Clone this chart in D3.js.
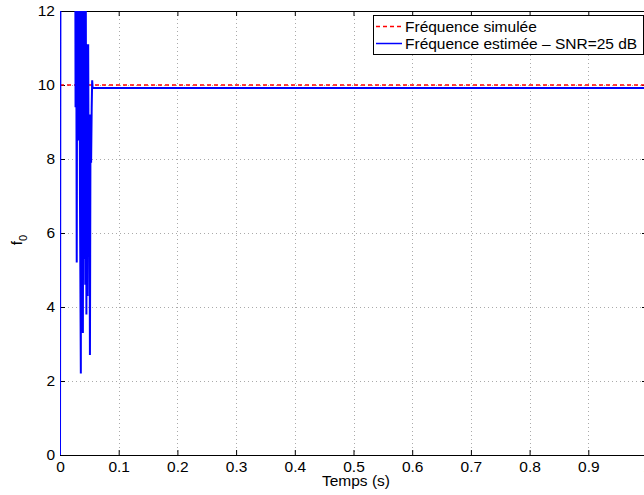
<!DOCTYPE html>
<html><head><meta charset="utf-8">
<script src="https://cdn.jsdelivr.net/npm/d3@7"></script>
<style>body{margin:0;background:#fff}svg{display:block;font-family:"Liberation Sans",Arial,sans-serif}</style>
</head><body>
<svg id="c" width="644" height="495"></svg>
<script>
const xTicks = [0,0.1,0.2,0.3,0.4,0.5,0.6,0.7,0.8,0.9,1];
const xTickLabels = ["0","0.1","0.2","0.3","0.4","0.5","0.6","0.7","0.8","0.9","1"];
const yTicks = [0,2,4,6,8,10,12];
const yTickLabels = ["0","2","4","6","8","10","12"];
const simTime = [0,1];
const simFreq = [10,10];
const estTime = [0,0.0008,0.026,0.0265,0.0275,0.0285,0.0295,0.031,0.032,0.033,0.034,0.0355,0.036,0.037,0.038,0.039,0.040,0.041,0.042,0.043,0.044,0.045,0.046,0.047,0.048,0.049,0.050,0.051,0.052,0.053,0.054,0.0548,0.0556,1];
const estFreq = [0,14,14,9.4,14,5.2,14,12.5,8.5,14,7,2.2,14,6,14,3.3,13,5.3,14,4.6,12,3.8,11.1,4.3,11.1,6.5,9.2,2.7,9.2,7.9,9.4,10.13,9.92,9.92];
const legendLabels = ["Fréquence simulée","Fréquence estimée – SNR=25 dB"];

const FS = 15.5;
const svg = d3.select("#c");
const L=60, R=647, T=11, B=455;
const x = d3.scaleLinear().domain([0,1]).range([L,R]);
const y = d3.scaleLinear().domain([0,12]).range([B,T]);

svg.append("defs").append("clipPath").attr("id","clip").append("rect")
  .attr("x",L).attr("y",T).attr("width",R-L).attr("height",B-T);

// grid
const g = svg.append("g");
g.selectAll(".gx").data(xTicks.slice(1,-1)).enter().append("line")
  .attr("x1",d=>Math.round(x(d))+0.5).attr("x2",d=>Math.round(x(d))+0.5).attr("y1",T).attr("y2",B)
  .attr("stroke","#aaa").attr("stroke-width",1).attr("stroke-dasharray","1,3");
g.selectAll(".gy").data(yTicks.slice(1,-1)).enter().append("line")
  .attr("y1",d=>Math.round(y(d))+0.5).attr("y2",d=>Math.round(y(d))+0.5).attr("x1",L).attr("x2",R)
  .attr("stroke","#aaa").attr("stroke-width",1).attr("stroke-dasharray","1,3");

// axes with inward ticks
const xb = d3.axisBottom(x).tickValues(xTicks).tickFormat((d,i)=>xTickLabels[i]).tickSizeInner(-5).tickSizeOuter(0).tickPadding(6);
const xt = d3.axisTop(x).tickValues(xTicks).tickFormat("").tickSizeInner(-5).tickSizeOuter(0);
const yl = d3.axisLeft(y).tickValues(yTicks).tickFormat((d,i)=>yTickLabels[i]).tickSizeInner(-5).tickSizeOuter(0).tickPadding(5);
const yr = d3.axisRight(y).tickValues(yTicks).tickFormat("").tickSizeInner(-5).tickSizeOuter(0);
function style(sel){sel.selectAll("path,line").attr("stroke","#000");sel.selectAll("text").attr("fill","#000").attr("font-size",FS).attr("font-family","Liberation Sans, Arial, sans-serif");}
svg.append("g").attr("transform",`translate(0,${B})`).call(xb).call(style);
svg.append("g").attr("transform",`translate(0,${T})`).call(xt).call(style);
svg.append("g").attr("transform",`translate(${L},0)`).call(yl).call(style);
svg.append("g").attr("transform",`translate(${R},0)`).call(yr).call(style);

// lines
const plot = svg.append("g").attr("clip-path","url(#clip)");
const line = d3.line().x(d=>x(d[0])).y(d=>y(d[1]));
plot.append("path").datum(simTime.map((t,i)=>[t,simFreq[i]])).attr("d",line)
  .attr("fill","none").attr("stroke","#ff0000").attr("stroke-width",1.5).attr("stroke-dasharray","4,3");
plot.append("path").datum(estTime.map((t,i)=>[t,estFreq[i]])).attr("d",line)
  .attr("fill","none").attr("stroke","#0000ff").attr("stroke-width",2);

// axis labels
svg.append("text").attr("x",356).attr("y",486).attr("text-anchor","middle").attr("font-size",FS).text("Temps (s)");
const yt = svg.append("text").attr("transform","translate(22,240) rotate(-90)").attr("text-anchor","middle").attr("font-size",FS);
yt.append("tspan").text("f");
yt.append("tspan").attr("dy",5).attr("font-size",11).text("0");

// legend
const lg = svg.append("g");
lg.append("rect").attr("x",373.5).attr("y",15.5).attr("width",270).attr("height",39).attr("fill","#fff").attr("stroke","#000");
const colors=["#ff0000","#0000ff"], dashes=["4,3",null];
legendLabels.forEach((lab,i)=>{
  const yy = 26.5+i*17;
  lg.append("line").attr("x1",376).attr("x2",402).attr("y1",yy).attr("y2",yy)
    .attr("stroke",colors[i]).attr("stroke-width",1.5).attr("stroke-dasharray",dashes[i]);
  lg.append("text").attr("x",405).attr("y",yy+5.5).attr("font-size",FS).text(lab);
});
</script>
</body></html>
